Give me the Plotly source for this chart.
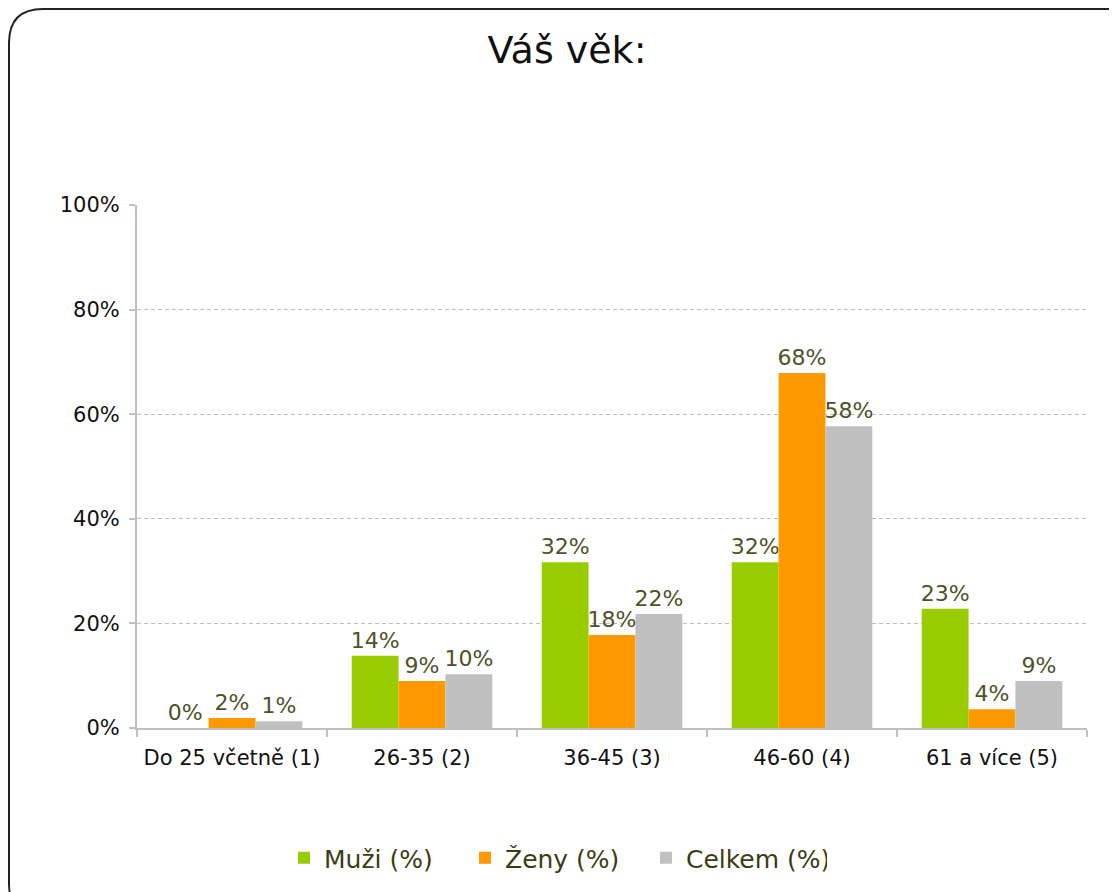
import plotly.graph_objects as go

categories = ["Do 25 včetně (1)", "26-35 (2)", "36-45 (3)", "46-60 (4)", "61 a více (5)"]
muzi = [0.0, 0.138, 0.317, 0.317, 0.228]
zeny = [0.019, 0.090, 0.178, 0.679, 0.036]
celkem = [0.013, 0.103, 0.218, 0.577, 0.090]

series = [("Muži (%)", muzi, "#99CC00"), ("Ženy (%)", zeny, "#FF9900"), ("Celkem (%)", celkem, "#C0C0C0")]

W, H = 1117, 892
OFF = 8  # page body margin
L, T = 137 - OFF, 205 - OFF
pw, ph = 950, 523
R = W - L - pw
B = H - T - ph

def px2p(x, y):
    # x, y in figure (not screen) pixel coordinates
    return (x - L) / pw, (T + ph - y) / ph

fig = go.Figure()
for name, vals, col in series:
    fig.add_trace(go.Bar(
        x=categories, y=vals, name=name, marker=dict(color=col, line=dict(width=0)),
        texttemplate="%{y:.0%}", textposition="outside", cliponaxis=False,
        constraintext="none",
        textfont=dict(family="DejaVu Sans", size=22, color="#4F5127"),
    ))

# rounded border around the chart
x0, y0, x1, y1, r = 1, 1, 1134, 910, 34
def P(x, y):
    a, b = px2p(x, y)
    return f"{a:.5f},{b:.5f}"
path = (f"M {P(x0 + r, y0)} L {P(x1 - r, y0)} Q {P(x1, y0)} {P(x1, y0 + r)} "
        f"L {P(x1, y1 - r)} Q {P(x1, y1)} {P(x1 - r, y1)} "
        f"L {P(x0 + r, y1)} Q {P(x0, y1)} {P(x0, y1 - r)} "
        f"L {P(x0, y0 + r)} Q {P(x0, y0)} {P(x0 + r, y0)} Z")
fig.add_shape(type="path", path=path, xref="paper", yref="paper",
              line=dict(color="#222222", width=2), layer="below")

fig.update_layout(
    width=W, height=H,
    margin=dict(l=L, r=R, t=T, b=B, autoexpand=False),
    paper_bgcolor="white", plot_bgcolor="white",
    barmode="group", bargap=0.26, bargroupgap=0,
    font=dict(family="DejaVu Sans", color="#222222"),
    title=dict(text="Váš věk:", x=(567 - OFF) / W, xanchor="center", y=1 - (50 - OFF) / H, yanchor="middle",
               font=dict(family="DejaVu Sans", size=38, color="#111111")),
    showlegend=True,
    legend=dict(orientation="h", x=(284 - OFF - L) / pw, xanchor="left", y=(T + ph - (858 - OFF)) / ph, yanchor="middle",
                font=dict(family="DejaVu Sans", size=25, color="#3C3C14"),
                entrywidth=136, entrywidthmode="pixels",
                itemsizing="constant", traceorder="normal"),
    xaxis=dict(showline=True, linecolor="#BFBFBF", linewidth=2, ticks="outside", tickangle=0,
               tickson="boundaries", ticklen=7, tickcolor="#BFBFBF", tickwidth=2,
               ticklabelstandoff=10,
               tickfont=dict(family="DejaVu Sans", size=21, color="#111111"), showgrid=False),
    yaxis=dict(range=[0, 1], dtick=0.2, tickformat=".0%", showline=True, linecolor="#BFBFBF",
               linewidth=2, ticks="outside", ticklen=6, tickcolor="#BFBFBF", tickwidth=2,
               ticklabelstandoff=5,
               showgrid=True, gridcolor="#BEBEBE", gridwidth=1, griddash="4px,3px",
               tickfont=dict(family="DejaVu Sans", size=21, color="#111111"), zeroline=False),
)

fig.write_html("out.html")
